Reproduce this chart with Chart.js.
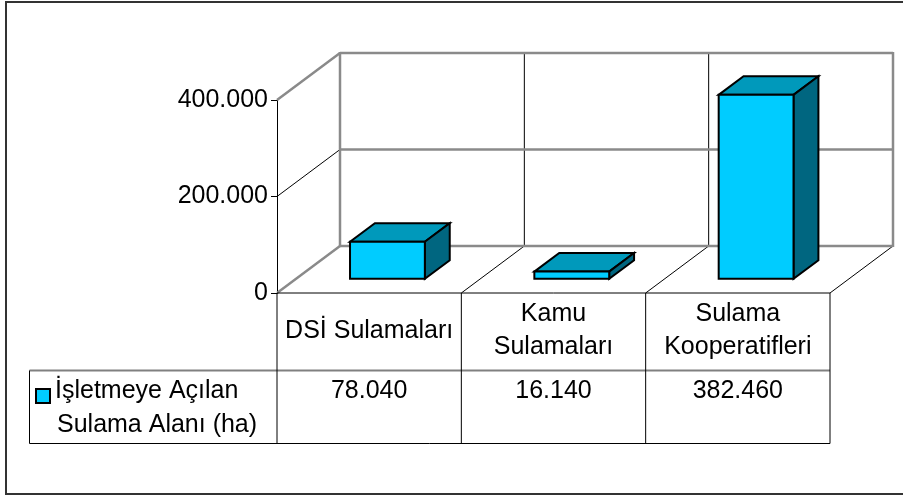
<!DOCTYPE html>
<html>
<head>
<meta charset="utf-8">
<script src="https://cdn.jsdelivr.net/npm/chart.js@4/dist/chart.umd.min.js"></script>
<style>
  body { margin: 0; background: #fff; }
  #wrap { width: 903px; height: 497px; position: relative; }
</style>
</head>
<body>
<div id="wrap"><canvas id="alanChart"></canvas></div>
<script>
// irrigation areas opened to operation, by organisation
const categories = [['DSİ Sulamaları'], ['Kamu', 'Sulamaları'], ['Sulama', 'Kooperatifleri']];
const seriesName = ['İşletmeye Açılan', 'Sulama Alanı (ha)'];
const areaHa = [78040, 16140, 382460];
const yTicks = [0, 200000, 400000];

const FONT = '"Liberation Sans", Arial, sans-serif';
const DEPTH = { x: 63, y: -47 };     // oblique offset of the back wall
const BAR_FRONT = 0.29, BAR_BACK = 0.685;
const FACE = '#00CCFF', TOP = '#0099BB', SIDE = '#006680';

function fmt(v) {
    return String(v).replace(/\B(?=(\d{3})+(?!\d))/g, '.');
}

function line(ctx, x1, y1, x2, y2, color, width) {
    ctx.beginPath();
    ctx.moveTo(x1, y1);
    ctx.lineTo(x2, y2);
    ctx.strokeStyle = color;
    ctx.lineWidth = width;
    ctx.stroke();
}

function poly(ctx, pts, fill) {
    ctx.beginPath();
    ctx.moveTo(pts[0][0], pts[0][1]);
    for (let i = 1; i < pts.length; i++) ctx.lineTo(pts[i][0], pts[i][1]);
    ctx.closePath();
    ctx.fillStyle = fill;
    ctx.fill();
    ctx.strokeStyle = '#000';
    ctx.lineWidth = 2;
    ctx.lineJoin = 'miter';
    ctx.stroke();
}

const box3d = {
    id: 'box3d',
    // walls, floor and back grid
    beforeDatasetsDraw(chart) {
        const ctx = chart.ctx;
        const a = chart.chartArea;
        const y = chart.scales.y, x = chart.scales.x;
        const dx = DEPTH.x, dy = DEPTH.y;
        const gray = '#8a8a8a';
        ctx.save();
        // category dividers on the back wall and on the floor
        const step = (a.right - a.left) / categories.length;
        for (let i = 1; i <= categories.length; i++) {
            const fx = a.left + step * i;
            if (i < categories.length) line(ctx, fx + dx, a.top + dy, fx + dx, a.bottom + dy, '#000', 1);
            line(ctx, fx, a.bottom, fx + dx, a.bottom + dy, '#000', 1);
        }
        // value gridlines: back wall + side wall
        yTicks.forEach(t => {
            const py = y.getPixelForValue(t);
            const inner = t !== yTicks[0] && t !== yTicks[yTicks.length - 1];
            line(ctx, a.left, py, a.left + dx, py + dy, inner ? '#000' : gray, inner ? 1 : 2.5);
            line(ctx, a.left + dx, py + dy, a.right + dx, py + dy, gray, 2.5);
        });
        // back wall edges
        line(ctx, a.left + dx, a.top + dy - 1, a.left + dx, a.bottom + dy + 1, gray, 2.5);
        line(ctx, a.right + dx, a.top + dy - 1, a.right + dx, a.bottom + dy + 1, gray, 2.5);
        ctx.restore();
    },
    // bars as boxes
    afterDatasetsDraw(chart) {
        const ctx = chart.ctx;
        const meta = chart.getDatasetMeta(0);
        ctx.save();
        meta.data.forEach(bar => {
            const p = bar.getProps(['x', 'y', 'base', 'width'], true);
            const ox = DEPTH.x * BAR_FRONT, oy = DEPTH.y * BAR_FRONT;
            const bx = DEPTH.x * (BAR_BACK - BAR_FRONT), by = DEPTH.y * (BAR_BACK - BAR_FRONT);
            const l = p.x - p.width / 2 + ox, r = p.x + p.width / 2 + ox;
            const t = p.y + oy, b = p.base + oy;
            poly(ctx, [[l, t], [r, t], [r + bx, t + by], [l + bx, t + by]], TOP);
            poly(ctx, [[r, t], [r + bx, t + by], [r + bx, b + by], [r, b]], SIDE);
            poly(ctx, [[l, t], [r, t], [r, b], [l, b]], FACE);
        });
        ctx.restore();
    },
    // data table below the floor and the outer frame
    afterDraw(chart) {
        const ctx = chart.ctx;
        const a = chart.chartArea;
        const x = chart.scales.x;
        const step = (a.right - a.left) / categories.length;
        const rowTop = a.bottom, rowMid = 370.5, rowBot = 443.5, tableLeft = 29.5;
        ctx.save();
        // grid of the table
        line(ctx, a.left, rowTop, a.right, rowTop, '#000', 1);
        line(ctx, tableLeft, rowMid, a.right, rowMid, '#808080', 2);
        line(ctx, tableLeft, rowBot, a.right, rowBot, '#000', 1);
        line(ctx, tableLeft, rowMid, tableLeft, rowBot, '#000', 1);
        for (let i = 0; i <= categories.length; i++) {
            const fx = a.left + step * i;
            line(ctx, fx, rowTop, fx, rowBot, '#000', 1);
        }
        ctx.fillStyle = '#000';
        ctx.font = '25px ' + FONT;
        ctx.textAlign = 'center';
        ctx.textBaseline = 'middle';
        const headMid = (rowTop + rowMid) / 2 - 1;
        categories.forEach((lines, i) => {
            const cx = x.getPixelForValue(i);
            const lh = 33;
            lines.forEach((s, j) => {
                ctx.fillText(s, cx, headMid + (j - (lines.length - 1) / 2) * lh);
            });
            ctx.fillText(fmt(areaHa[i]), cx, rowMid + 21);
        });
        // legend key and series name
        ctx.fillStyle = FACE;
        ctx.fillRect(36, 389, 14, 14);
        ctx.strokeStyle = '#000';
        ctx.lineWidth = 2;
        ctx.strokeRect(36, 389, 14, 14);
        ctx.fillStyle = '#000';
        ctx.textAlign = 'left';
        ctx.fillText(seriesName[0], 55, rowMid + 21);
        ctx.fillText(seriesName[1], 57, rowMid + 55);
        // frame round the whole chart
        ctx.strokeStyle = '#333';
        ctx.lineWidth = 2;
        ctx.strokeRect(6, 2, 905, 492);
        ctx.restore();
    }
};

const ctx = document.getElementById('alanChart').getContext('2d');

const alanChart = new Chart(ctx, {
    type: 'bar',
    data: {
        labels: categories,
        datasets: [{
            label: seriesName.join(' '),
            data: areaHa,
            backgroundColor: 'rgba(0,0,0,0)',
            borderWidth: 0,
            categoryPercentage: 1,
            barPercentage: 0.406
        }]
    },
    options: {
        responsive: true,
        maintainAspectRatio: false,
        animation: false,
        layout: {
            padding: { left: 0, top: 100, right: 73, bottom: 204 }
        },
        scales: {
            x: { display: false },
            y: {
                min: 0,
                max: 400000,
                afterFit: scale => { scale.width = 277; },
                afterBuildTicks: scale => {
                    scale.ticks = yTicks.map(v => ({ value: v }));
                },
                grid: {
                    drawOnChartArea: false,
                    drawTicks: true,
                    tickLength: 6,
                    color: '#000'
                },
                border: { display: true, color: '#000' },
                ticks: {
                    color: '#000',
                    padding: 3,
                    font: { family: FONT, size: 25 },
                    callback: v => fmt(v)
                }
            }
        },
        plugins: {
            legend: { display: false },
            tooltip: { enabled: false }
        }
    },
    plugins: [box3d]
});
</script>
</body>
</html>
